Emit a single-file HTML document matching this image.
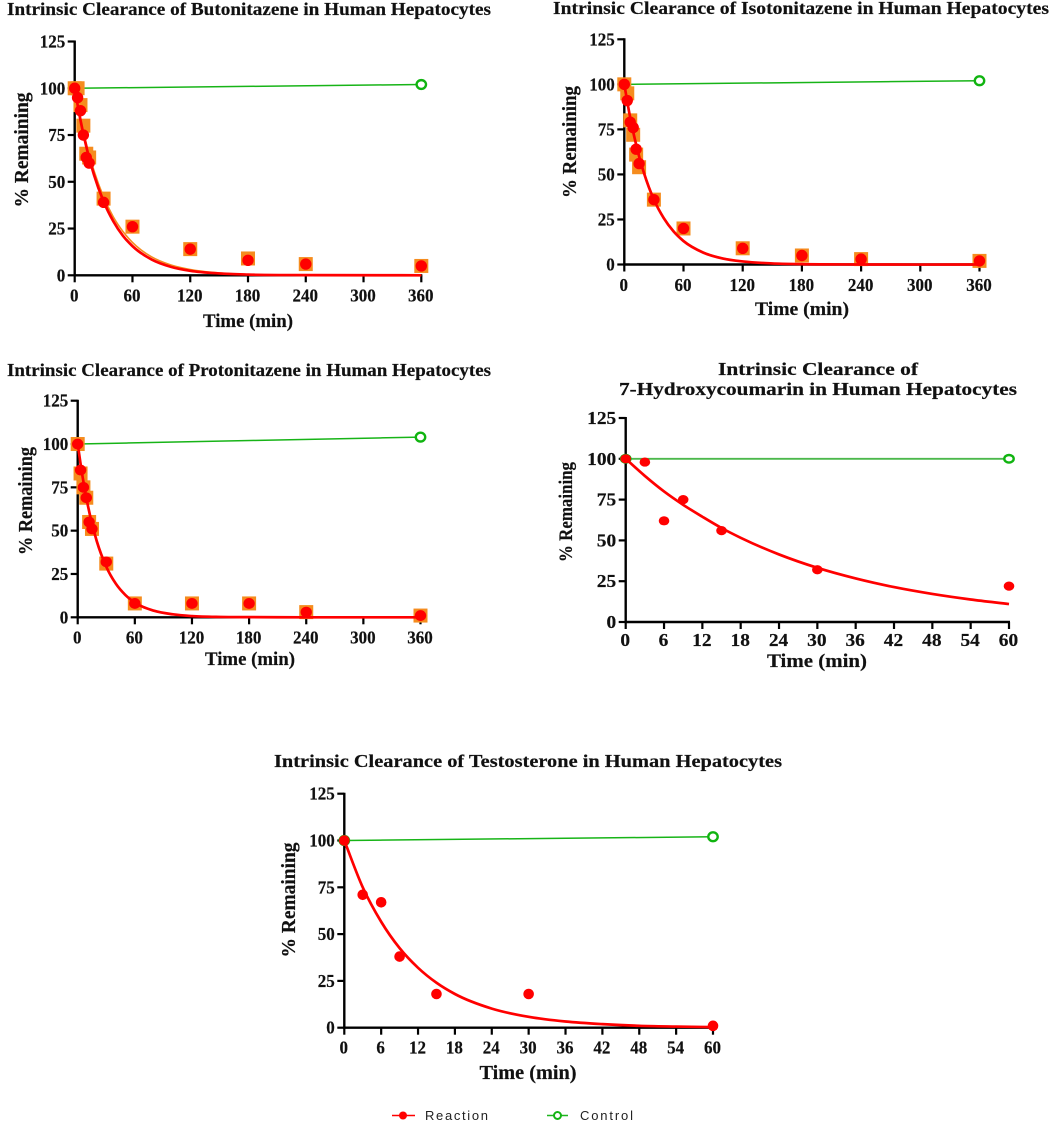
<!DOCTYPE html>
<html lang="en">
<head>
<meta charset="utf-8">
<title>Intrinsic Clearance in Human Hepatocytes</title>
<style>
html,body{margin:0;padding:0;background:#fff;width:1052px;height:1122px;overflow:hidden}
svg{display:block;filter:blur(0.35px)}
text{font-family:"Liberation Serif",serif;font-weight:bold;fill:#111;stroke:#111;stroke-width:0.2px}
.legend-text{font-family:"Liberation Sans",sans-serif;font-weight:normal;font-size:13px;fill:#222;stroke:none}
</style>
</head>
<body>
<svg id="figure" width="1052" height="1122" viewBox="0 0 1052 1122" xmlns="http://www.w3.org/2000/svg">
  <g id="panel-butonitazene">
    <text x="7" y="15" font-size="18" textLength="484" lengthAdjust="spacingAndGlyphs">Intrinsic Clearance of Butonitazene in Human Hepatocytes</text>
    <text x="248" y="327" font-size="19" text-anchor="middle" textLength="90" lengthAdjust="spacingAndGlyphs">Time (min)</text>
    <text transform="translate(28,150) rotate(-90)" font-size="20" text-anchor="middle" textLength="115" lengthAdjust="spacingAndGlyphs">% Remaining</text>
  </g>
  <g id="panel-isotonitazene">
    <text x="553" y="14" font-size="18" textLength="496" lengthAdjust="spacingAndGlyphs">Intrinsic Clearance of Isotonitazene in Human Hepatocytes</text>
    <text x="802" y="315" font-size="19" text-anchor="middle" textLength="94" lengthAdjust="spacingAndGlyphs">Time (min)</text>
    <text transform="translate(576,142) rotate(-90)" font-size="20" text-anchor="middle" textLength="112" lengthAdjust="spacingAndGlyphs">% Remaining</text>
  </g>
  <g id="panel-protonitazene">
    <text x="7" y="376" font-size="18" textLength="484" lengthAdjust="spacingAndGlyphs">Intrinsic Clearance of Protonitazene in Human Hepatocytes</text>
    <text x="250" y="665" font-size="19" text-anchor="middle" textLength="90" lengthAdjust="spacingAndGlyphs">Time (min)</text>
    <text transform="translate(32,501) rotate(-90)" font-size="20" text-anchor="middle" textLength="108" lengthAdjust="spacingAndGlyphs">% Remaining</text>
  </g>
  <g id="panel-hydroxycoumarin">
    <text x="718" y="375" font-size="17.5" textLength="200" lengthAdjust="spacingAndGlyphs">Intrinsic Clearance of</text>
    <text x="619" y="395" font-size="17.5" textLength="398" lengthAdjust="spacingAndGlyphs">7-Hydroxycoumarin in Human Hepatocytes</text>
    <text x="817" y="667" font-size="19" text-anchor="middle" textLength="100" lengthAdjust="spacingAndGlyphs">Time (min)</text>
    <text transform="translate(572,512) rotate(-90)" font-size="19" text-anchor="middle" textLength="100" lengthAdjust="spacingAndGlyphs">% Remaining</text>
  </g>
  <g id="panel-testosterone">
    <text x="274" y="767" font-size="18" textLength="508" lengthAdjust="spacingAndGlyphs">Intrinsic Clearance of Testosterone in Human Hepatocytes</text>
    <text x="528" y="1079" font-size="19.5" text-anchor="middle" textLength="97" lengthAdjust="spacingAndGlyphs">Time (min)</text>
    <text transform="translate(295,900) rotate(-90)" font-size="20" text-anchor="middle" textLength="115" lengthAdjust="spacingAndGlyphs">% Remaining</text>
  </g>
  <g id="legend">
    <g>
      <line x1="392" y1="1115.5" x2="415" y2="1115.5" stroke="#f00" stroke-width="1.5"/>
      <circle cx="403" cy="1115.5" r="4" fill="#f00"/>
      <text class="legend-text" x="425" y="1120" textLength="63">Reaction</text>
    </g>
    <g>
      <line x1="547" y1="1115.5" x2="568" y2="1115.5" stroke="#1fb51f" stroke-width="1.5"/>
      <circle cx="557.5" cy="1115.5" r="3.5" fill="#fff" stroke="#14b414" stroke-width="2"/>
      <text class="legend-text" x="580" y="1120" textLength="53">Control</text>
    </g>
  </g>
</svg>
<script>
// ---- Axis tick labels ----
var yTickLabels = [0, 25, 50, 75, 100, 125];
var xTicksLong = [0, 60, 120, 180, 240, 300, 360];
var xTicksShort = [0, 6, 12, 18, 24, 30, 36, 42, 48, 54, 60];

// ---- Sampling times (min) ----
var timesLong = [0, 3, 6, 9, 12, 15, 30, 60, 120, 180, 240, 360];
var timesShort = [0, 3, 6, 9, 15, 30, 60];
var controlTimesLong = [0, 360];
var controlTimesShort = [0, 60];
var fitTimesLong = [0, 5, 10, 15, 20, 30, 40, 50, 60, 80, 100, 120, 150, 180, 240, 360];
var fitTimesShort = [0, 3, 6, 9, 12, 15, 18, 24, 30, 36, 42, 48, 54, 60];

// ---- Butonitazene ----
var butonitazeneReplicate = [100, 100, 91, 80, 65, 63, 41, 26, 14, 9, 6, 5];
var butonitazeneReaction = [100, 95, 88, 75, 63, 60, 39, 26, 14, 8, 6, 5];
var butonitazeneControl = [100, 102];
var butonitazeneReplicateFit = [100, 86.5, 74.8, 64.7, 56, 41.9, 31.3, 23.5, 17.6, 9.8, 5.5, 3.1, 1.3, 0.5, 0.1, 0];
var butonitazeneReactionFit = [100, 85.6, 73.3, 62.8, 53.8, 39.5, 29, 21.2, 15.6, 8.4, 4.5, 2.4, 1, 0.4, 0.1, 0];

// ---- Isotonitazene ----
var isotonitazeneReplicate = [100, 95, 80, 72, 61, 54, 36, 20, 9, 5, 3, 2];
var isotonitazeneReaction = [100, 91, 79, 76, 64, 56, 36, 20, 9, 5, 3, 2];
var isotonitazeneControl = [100, 102];
var isotonitazeneReplicateFit = [100, 84.6, 71.5, 60.5, 51.2, 36.6, 26.2, 18.7, 13.4, 6.9, 3.5, 1.8, 0.7, 0.2, 0, 0];
var isotonitazeneReactionFit = [100, 84.4, 71.2, 60, 50.7, 36, 25.7, 18.3, 13, 6.6, 3.3, 1.7, 0.6, 0.2, 0, 0];

// ---- Protonitazene ----
var protonitazeneReplicate = [100, 83, 75, 69, 55, 51, 31, 8, 8, 8, 3, 1];
var protonitazeneReaction = [100, 85, 75, 69, 55, 51, 32, 8, 8, 8, 3, 1];
var protonitazeneControl = [100, 104];
var protonitazeneReplicateFit = [100, 81.3, 66.2, 53.8, 43.8, 29, 19.2, 12.7, 8.4, 3.7, 1.6, 0.7, 0.2, 0.1, 0, 0];
var protonitazeneReactionFit = [100, 81.5, 66.4, 54, 44, 29.2, 19.4, 12.9, 8.5, 3.8, 1.7, 0.7, 0.2, 0.1, 0, 0];

// ---- 7-Hydroxycoumarin ----
var hydroxycoumarinReaction = [100, 98, 62, 75, 56, 32, 22];
var hydroxycoumarinControl = [100, 100];
var hydroxycoumarinFit = [100, 89.5, 80, 71.8, 64.5, 57.6, 51.6, 41.4, 33.2, 26.7, 21.4, 17.2, 13.8, 11];

// ---- Testosterone ----
var testosteroneReaction = [100, 71, 67, 38, 18, 18, 1];
var testosteroneControl = [100, 102];
var testosteroneFit = [100, 75, 56.6, 42.5, 32, 24, 18, 10.2, 5.8, 3.3, 1.9, 1, 0.6, 0.3];

// ---- Panel layout (frame only; series are referenced from the arrays above) ----
var panels = [
  { id: 'panel-butonitazene', x0: 74.7, x1: 421.3, y0: 275.3, y1: 41.5, xMax: 360, xTicks: xTicksLong, stretch: 1, labelDy: 26, rx: 5.7, ry: 5.7,
    times: timesLong, reaction: butonitazeneReaction, replicate: butonitazeneReplicate, controlTimes: controlTimesLong, control: butonitazeneControl,
    fitTimes: fitTimesLong, fit: butonitazeneReactionFit, replicateFit: butonitazeneReplicateFit },
  { id: 'panel-isotonitazene', x0: 624.3, x1: 979.5, y0: 264.5, y1: 39.3, xMax: 360, xTicks: xTicksLong, stretch: 1, labelDy: 26.5, rx: 5.7, ry: 5.7,
    times: timesLong, reaction: isotonitazeneReaction, replicate: isotonitazeneReplicate, controlTimes: controlTimesLong, control: isotonitazeneControl,
    fitTimes: fitTimesLong, fit: isotonitazeneReactionFit, replicateFit: isotonitazeneReplicateFit },
  { id: 'panel-protonitazene', x0: 77.7, x1: 420.5, y0: 617.3, y1: 400.7, xMax: 360, xTicks: xTicksLong, stretch: 1, labelDy: 26, rx: 5.7, ry: 5.4,
    times: timesLong, reaction: protonitazeneReaction, replicate: protonitazeneReplicate, controlTimes: controlTimesLong, control: protonitazeneControl,
    fitTimes: fitTimesLong, fit: protonitazeneReactionFit, replicateFit: protonitazeneReplicateFit },
  { id: 'panel-hydroxycoumarin', x0: 625.7, x1: 1009, y0: 622, y1: 418, xMax: 60, xTicks: xTicksShort, stretch: 1.14, labelDy: 24, rx: 5.3, ry: 4.6,
    times: timesShort, reaction: hydroxycoumarinReaction, replicate: null, controlTimes: controlTimesShort, control: hydroxycoumarinControl,
    fitTimes: fitTimesShort, fit: hydroxycoumarinFit, replicateFit: null },
  { id: 'panel-testosterone', x0: 344.3, x1: 713, y0: 1027.7, y1: 793.7, xMax: 60, xTicks: xTicksShort, stretch: 1, labelDy: 26, rx: 5.3, ry: 5.3,
    times: timesShort, reaction: testosteroneReaction, replicate: null, controlTimes: controlTimesShort, control: testosteroneControl,
    fitTimes: fitTimesShort, fit: testosteroneFit, replicateFit: null }
];

var SVG_NS = 'http://www.w3.org/2000/svg';
var RED = '#ff0000', ORANGE = '#f58c1e', GREEN = '#17b417';

function make(tag, attrs, parent) {
  var el = document.createElementNS(SVG_NS, tag);
  for (var k in attrs) { el.setAttribute(k, attrs[k]); }
  parent.appendChild(el);
  return el;
}

// Cubic Hermite path with tangents that respect uneven point spacing
function smoothPath(pts) {
  var n = pts.length, m = [];
  for (var i = 0; i < n; i++) {
    if (i === 0) { m.push((pts[1][1] - pts[0][1]) / (pts[1][0] - pts[0][0])); }
    else if (i === n - 1) { m.push((pts[n - 1][1] - pts[n - 2][1]) / (pts[n - 1][0] - pts[n - 2][0])); }
    else {
      var h0 = pts[i][0] - pts[i - 1][0], h1 = pts[i + 1][0] - pts[i][0];
      var s0 = (pts[i][1] - pts[i - 1][1]) / h0, s1 = (pts[i + 1][1] - pts[i][1]) / h1;
      m.push((s0 * h1 + s1 * h0) / (h0 + h1));
    }
  }
  var d = 'M' + pts[0][0].toFixed(2) + ' ' + pts[0][1].toFixed(2);
  for (var j = 0; j < n - 1; j++) {
    var h = (pts[j + 1][0] - pts[j][0]) / 3;
    d += 'C' + (pts[j][0] + h).toFixed(2) + ' ' + (pts[j][1] + m[j] * h).toFixed(2) + ' ' +
      (pts[j + 1][0] - h).toFixed(2) + ' ' + (pts[j + 1][1] - m[j + 1] * h).toFixed(2) + ' ' +
      pts[j + 1][0].toFixed(2) + ' ' + pts[j + 1][1].toFixed(2);
  }
  return d;
}

panels.forEach(function (p) {
  var g = document.getElementById(p.id);
  var xScale = function (v) { return p.x0 + (v / p.xMax) * (p.x1 - p.x0); };
  var yScale = function (v) { return p.y0 - (v / 125) * (p.y0 - p.y1); };
  var fontSize = 18;
  var digitWidth = 8.5;

  // Axes
  var yAxis = make('line', { x1: p.x0, x2: p.x0, y1: yScale(125) - 1, y2: p.y0 + 1, stroke: '#000', 'stroke-width': 2.4 }, g);
  
  
  var xAxis = make('line', { x1: p.x0 - 1, x2: xScale(p.xMax) + 1, y1: p.y0, y2: p.y0, stroke: '#000', 'stroke-width': 2.4 }, g);
  
  

  yTickLabels.forEach(function (v) {
    var t = make('line', { x1: p.x0 - 7, x2: p.x0, y1: yScale(v), y2: yScale(v), stroke: '#000', 'stroke-width': 2.2 }, g);
    
    
    var s = String(v);
    var label = make('text', { x: p.x0 - 9.5, y: yScale(v) + 6, 'font-size': fontSize, 'text-anchor': 'end',
      textLength: s.length * digitWidth * p.stretch, lengthAdjust: 'spacingAndGlyphs' }, g);
    
    
    label.textContent = s;
  });

  p.xTicks.forEach(function (v) {
    var t = make('line', { x1: xScale(v), x2: xScale(v), y1: p.y0, y2: p.y0 + 7, stroke: '#000', 'stroke-width': 2.2 }, g);
    
    
    var s = String(v);
    var label = make('text', { x: xScale(v) - 0.5, y: p.y0 + p.labelDy, 'font-size': fontSize, 'text-anchor': 'middle',
      textLength: s.length * digitWidth * p.stretch, lengthAdjust: 'spacingAndGlyphs' }, g);
    
    
    label.textContent = s;
  });

  // Fit curves
  function curve(values, color, width, name) {
    var pts = p.fitTimes.map(function (t, i) { return [xScale(t), yScale(values[i])]; });
    var el = make('path', { d: smoothPath(pts), fill: 'none', stroke: color, 'stroke-width': width }, g);
    
    
  }
  if (p.replicateFit) { curve(p.replicateFit, ORANGE, 1.6, 'replicate-fit-curve'); }

  // Control line
  var cPts = p.controlTimes.map(function (t, i) { return xScale(t) + ' ' + yScale(p.control[i]); });
  var cLine = make('path', { d: 'M' + cPts.join('L'), fill: 'none', stroke: p.id === 'panel-hydroxycoumarin' ? '#4cb84c' : GREEN, 'stroke-width': p.id === 'panel-hydroxycoumarin' ? 1.9 : 1.5 }, g);
  
  
  p.controlTimes.forEach(function (t, i) {
    var m = make('ellipse', { cx: xScale(t), cy: yScale(p.control[i]), rx: 4.7, ry: p.id === 'panel-hydroxycoumarin' ? 3.8 : 4.4, fill: '#fff', stroke: '#10b410', 'stroke-width': 2.4 }, g);
    
    
  });

  // Replicate squares
  if (p.replicate) {
    p.times.forEach(function (t, i) {
      var s = make('rect', { x: xScale(t) - 7, y: yScale(p.replicate[i]) - 7, width: 14, height: 14, fill: ORANGE }, g);
      
      
    });
  }

  curve(p.fit, RED, 2.7, 'reaction-fit-curve');

  // Reaction circles
  p.times.forEach(function (t, i) {
    var c = make('ellipse', { cx: xScale(t), cy: yScale(p.reaction[i]), rx: p.rx, ry: p.ry, fill: RED }, g);
    
    
  });
});
</script>
</body>
</html>
